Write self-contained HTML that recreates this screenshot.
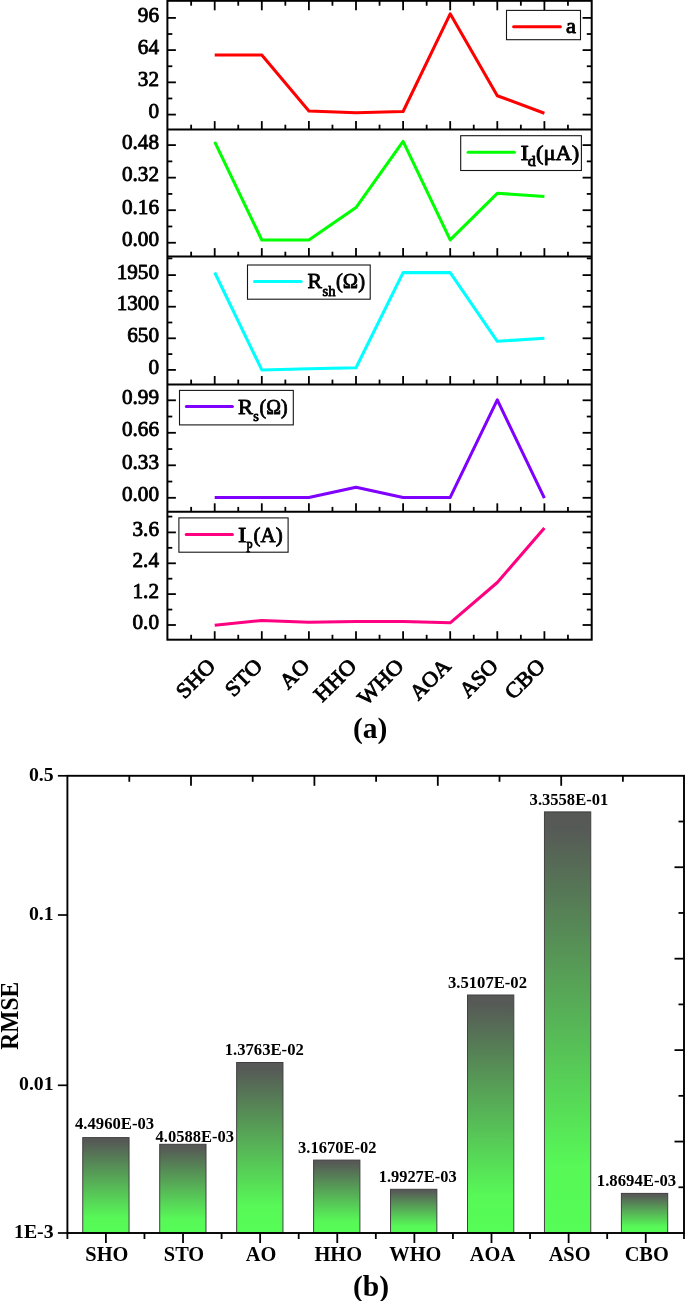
<!DOCTYPE html>
<html lang="en">
<head>
<meta charset="utf-8">
<title>Figure: optimizer parameter comparison and RMSE</title>
<style>
html,body{margin:0;padding:0;background:#fff;}
body{width:685px;height:1301px;overflow:hidden;}
svg{display:block;font-family:"Liberation Serif", "DejaVu Serif", serif;font-weight:bold;fill:#000;}
svg text{font-family:"Liberation Serif", "DejaVu Serif", serif;font-weight:bold;}
svg text.sb{font-weight:normal;stroke:#000;stroke-width:0.85px;stroke-linejoin:round;}
svg text.sc{font-weight:normal;stroke:#000;stroke-width:0.85px;stroke-linejoin:round;}
</style>
</head>
<body>
<svg width="685" height="1301" viewBox="0 0 685 1301">
<rect x="0" y="0" width="685" height="1301" fill="#ffffff"/>
<g id="chart-a">
<rect x="167.4" y="0.8" width="424.30000000000007" height="638.9000000000001" fill="none" stroke="#000" stroke-width="2.0"/>
<line x1="167.40" y1="129.60" x2="591.70" y2="129.60" stroke="#000" stroke-width="2.0" />
<line x1="167.40" y1="256.60" x2="591.70" y2="256.60" stroke="#000" stroke-width="2.0" />
<line x1="167.40" y1="384.50" x2="591.70" y2="384.50" stroke="#000" stroke-width="2.0" />
<line x1="167.40" y1="511.80" x2="591.70" y2="511.80" stroke="#000" stroke-width="2.0" />
<line x1="214.70" y1="0.80" x2="214.70" y2="10.30" stroke="#000" stroke-width="1.8" />
<line x1="261.80" y1="0.80" x2="261.80" y2="10.30" stroke="#000" stroke-width="1.8" />
<line x1="308.90" y1="0.80" x2="308.90" y2="10.30" stroke="#000" stroke-width="1.8" />
<line x1="356.00" y1="0.80" x2="356.00" y2="10.30" stroke="#000" stroke-width="1.8" />
<line x1="403.10" y1="0.80" x2="403.10" y2="10.30" stroke="#000" stroke-width="1.8" />
<line x1="450.20" y1="0.80" x2="450.20" y2="10.30" stroke="#000" stroke-width="1.8" />
<line x1="497.30" y1="0.80" x2="497.30" y2="10.30" stroke="#000" stroke-width="1.8" />
<line x1="544.40" y1="0.80" x2="544.40" y2="10.30" stroke="#000" stroke-width="1.8" />
<line x1="191.15" y1="0.80" x2="191.15" y2="5.70" stroke="#000" stroke-width="1.8" />
<line x1="238.25" y1="0.80" x2="238.25" y2="5.70" stroke="#000" stroke-width="1.8" />
<line x1="285.35" y1="0.80" x2="285.35" y2="5.70" stroke="#000" stroke-width="1.8" />
<line x1="332.45" y1="0.80" x2="332.45" y2="5.70" stroke="#000" stroke-width="1.8" />
<line x1="379.55" y1="0.80" x2="379.55" y2="5.70" stroke="#000" stroke-width="1.8" />
<line x1="426.65" y1="0.80" x2="426.65" y2="5.70" stroke="#000" stroke-width="1.8" />
<line x1="473.75" y1="0.80" x2="473.75" y2="5.70" stroke="#000" stroke-width="1.8" />
<line x1="520.85" y1="0.80" x2="520.85" y2="5.70" stroke="#000" stroke-width="1.8" />
<line x1="567.95" y1="0.80" x2="567.95" y2="5.70" stroke="#000" stroke-width="1.8" />
<line x1="214.70" y1="129.60" x2="214.70" y2="121.10" stroke="#000" stroke-width="1.8" />
<line x1="261.80" y1="129.60" x2="261.80" y2="121.10" stroke="#000" stroke-width="1.8" />
<line x1="308.90" y1="129.60" x2="308.90" y2="121.10" stroke="#000" stroke-width="1.8" />
<line x1="356.00" y1="129.60" x2="356.00" y2="121.10" stroke="#000" stroke-width="1.8" />
<line x1="403.10" y1="129.60" x2="403.10" y2="121.10" stroke="#000" stroke-width="1.8" />
<line x1="450.20" y1="129.60" x2="450.20" y2="121.10" stroke="#000" stroke-width="1.8" />
<line x1="497.30" y1="129.60" x2="497.30" y2="121.10" stroke="#000" stroke-width="1.8" />
<line x1="544.40" y1="129.60" x2="544.40" y2="121.10" stroke="#000" stroke-width="1.8" />
<line x1="191.15" y1="129.60" x2="191.15" y2="124.70" stroke="#000" stroke-width="1.8" />
<line x1="238.25" y1="129.60" x2="238.25" y2="124.70" stroke="#000" stroke-width="1.8" />
<line x1="285.35" y1="129.60" x2="285.35" y2="124.70" stroke="#000" stroke-width="1.8" />
<line x1="332.45" y1="129.60" x2="332.45" y2="124.70" stroke="#000" stroke-width="1.8" />
<line x1="379.55" y1="129.60" x2="379.55" y2="124.70" stroke="#000" stroke-width="1.8" />
<line x1="426.65" y1="129.60" x2="426.65" y2="124.70" stroke="#000" stroke-width="1.8" />
<line x1="473.75" y1="129.60" x2="473.75" y2="124.70" stroke="#000" stroke-width="1.8" />
<line x1="520.85" y1="129.60" x2="520.85" y2="124.70" stroke="#000" stroke-width="1.8" />
<line x1="567.95" y1="129.60" x2="567.95" y2="124.70" stroke="#000" stroke-width="1.8" />
<line x1="214.70" y1="256.60" x2="214.70" y2="248.10" stroke="#000" stroke-width="1.8" />
<line x1="261.80" y1="256.60" x2="261.80" y2="248.10" stroke="#000" stroke-width="1.8" />
<line x1="308.90" y1="256.60" x2="308.90" y2="248.10" stroke="#000" stroke-width="1.8" />
<line x1="356.00" y1="256.60" x2="356.00" y2="248.10" stroke="#000" stroke-width="1.8" />
<line x1="403.10" y1="256.60" x2="403.10" y2="248.10" stroke="#000" stroke-width="1.8" />
<line x1="450.20" y1="256.60" x2="450.20" y2="248.10" stroke="#000" stroke-width="1.8" />
<line x1="497.30" y1="256.60" x2="497.30" y2="248.10" stroke="#000" stroke-width="1.8" />
<line x1="544.40" y1="256.60" x2="544.40" y2="248.10" stroke="#000" stroke-width="1.8" />
<line x1="191.15" y1="256.60" x2="191.15" y2="251.70" stroke="#000" stroke-width="1.8" />
<line x1="238.25" y1="256.60" x2="238.25" y2="251.70" stroke="#000" stroke-width="1.8" />
<line x1="285.35" y1="256.60" x2="285.35" y2="251.70" stroke="#000" stroke-width="1.8" />
<line x1="332.45" y1="256.60" x2="332.45" y2="251.70" stroke="#000" stroke-width="1.8" />
<line x1="379.55" y1="256.60" x2="379.55" y2="251.70" stroke="#000" stroke-width="1.8" />
<line x1="426.65" y1="256.60" x2="426.65" y2="251.70" stroke="#000" stroke-width="1.8" />
<line x1="473.75" y1="256.60" x2="473.75" y2="251.70" stroke="#000" stroke-width="1.8" />
<line x1="520.85" y1="256.60" x2="520.85" y2="251.70" stroke="#000" stroke-width="1.8" />
<line x1="567.95" y1="256.60" x2="567.95" y2="251.70" stroke="#000" stroke-width="1.8" />
<line x1="214.70" y1="384.50" x2="214.70" y2="376.00" stroke="#000" stroke-width="1.8" />
<line x1="261.80" y1="384.50" x2="261.80" y2="376.00" stroke="#000" stroke-width="1.8" />
<line x1="308.90" y1="384.50" x2="308.90" y2="376.00" stroke="#000" stroke-width="1.8" />
<line x1="356.00" y1="384.50" x2="356.00" y2="376.00" stroke="#000" stroke-width="1.8" />
<line x1="403.10" y1="384.50" x2="403.10" y2="376.00" stroke="#000" stroke-width="1.8" />
<line x1="450.20" y1="384.50" x2="450.20" y2="376.00" stroke="#000" stroke-width="1.8" />
<line x1="497.30" y1="384.50" x2="497.30" y2="376.00" stroke="#000" stroke-width="1.8" />
<line x1="544.40" y1="384.50" x2="544.40" y2="376.00" stroke="#000" stroke-width="1.8" />
<line x1="191.15" y1="384.50" x2="191.15" y2="379.60" stroke="#000" stroke-width="1.8" />
<line x1="238.25" y1="384.50" x2="238.25" y2="379.60" stroke="#000" stroke-width="1.8" />
<line x1="285.35" y1="384.50" x2="285.35" y2="379.60" stroke="#000" stroke-width="1.8" />
<line x1="332.45" y1="384.50" x2="332.45" y2="379.60" stroke="#000" stroke-width="1.8" />
<line x1="379.55" y1="384.50" x2="379.55" y2="379.60" stroke="#000" stroke-width="1.8" />
<line x1="426.65" y1="384.50" x2="426.65" y2="379.60" stroke="#000" stroke-width="1.8" />
<line x1="473.75" y1="384.50" x2="473.75" y2="379.60" stroke="#000" stroke-width="1.8" />
<line x1="520.85" y1="384.50" x2="520.85" y2="379.60" stroke="#000" stroke-width="1.8" />
<line x1="567.95" y1="384.50" x2="567.95" y2="379.60" stroke="#000" stroke-width="1.8" />
<line x1="214.70" y1="511.80" x2="214.70" y2="503.30" stroke="#000" stroke-width="1.8" />
<line x1="261.80" y1="511.80" x2="261.80" y2="503.30" stroke="#000" stroke-width="1.8" />
<line x1="308.90" y1="511.80" x2="308.90" y2="503.30" stroke="#000" stroke-width="1.8" />
<line x1="356.00" y1="511.80" x2="356.00" y2="503.30" stroke="#000" stroke-width="1.8" />
<line x1="403.10" y1="511.80" x2="403.10" y2="503.30" stroke="#000" stroke-width="1.8" />
<line x1="450.20" y1="511.80" x2="450.20" y2="503.30" stroke="#000" stroke-width="1.8" />
<line x1="497.30" y1="511.80" x2="497.30" y2="503.30" stroke="#000" stroke-width="1.8" />
<line x1="544.40" y1="511.80" x2="544.40" y2="503.30" stroke="#000" stroke-width="1.8" />
<line x1="191.15" y1="511.80" x2="191.15" y2="506.90" stroke="#000" stroke-width="1.8" />
<line x1="238.25" y1="511.80" x2="238.25" y2="506.90" stroke="#000" stroke-width="1.8" />
<line x1="285.35" y1="511.80" x2="285.35" y2="506.90" stroke="#000" stroke-width="1.8" />
<line x1="332.45" y1="511.80" x2="332.45" y2="506.90" stroke="#000" stroke-width="1.8" />
<line x1="379.55" y1="511.80" x2="379.55" y2="506.90" stroke="#000" stroke-width="1.8" />
<line x1="426.65" y1="511.80" x2="426.65" y2="506.90" stroke="#000" stroke-width="1.8" />
<line x1="473.75" y1="511.80" x2="473.75" y2="506.90" stroke="#000" stroke-width="1.8" />
<line x1="520.85" y1="511.80" x2="520.85" y2="506.90" stroke="#000" stroke-width="1.8" />
<line x1="567.95" y1="511.80" x2="567.95" y2="506.90" stroke="#000" stroke-width="1.8" />
<line x1="214.70" y1="639.70" x2="214.70" y2="631.20" stroke="#000" stroke-width="1.8" />
<line x1="261.80" y1="639.70" x2="261.80" y2="631.20" stroke="#000" stroke-width="1.8" />
<line x1="308.90" y1="639.70" x2="308.90" y2="631.20" stroke="#000" stroke-width="1.8" />
<line x1="356.00" y1="639.70" x2="356.00" y2="631.20" stroke="#000" stroke-width="1.8" />
<line x1="403.10" y1="639.70" x2="403.10" y2="631.20" stroke="#000" stroke-width="1.8" />
<line x1="450.20" y1="639.70" x2="450.20" y2="631.20" stroke="#000" stroke-width="1.8" />
<line x1="497.30" y1="639.70" x2="497.30" y2="631.20" stroke="#000" stroke-width="1.8" />
<line x1="544.40" y1="639.70" x2="544.40" y2="631.20" stroke="#000" stroke-width="1.8" />
<line x1="191.15" y1="639.70" x2="191.15" y2="634.80" stroke="#000" stroke-width="1.8" />
<line x1="238.25" y1="639.70" x2="238.25" y2="634.80" stroke="#000" stroke-width="1.8" />
<line x1="285.35" y1="639.70" x2="285.35" y2="634.80" stroke="#000" stroke-width="1.8" />
<line x1="332.45" y1="639.70" x2="332.45" y2="634.80" stroke="#000" stroke-width="1.8" />
<line x1="379.55" y1="639.70" x2="379.55" y2="634.80" stroke="#000" stroke-width="1.8" />
<line x1="426.65" y1="639.70" x2="426.65" y2="634.80" stroke="#000" stroke-width="1.8" />
<line x1="473.75" y1="639.70" x2="473.75" y2="634.80" stroke="#000" stroke-width="1.8" />
<line x1="520.85" y1="639.70" x2="520.85" y2="634.80" stroke="#000" stroke-width="1.8" />
<line x1="567.95" y1="639.70" x2="567.95" y2="634.80" stroke="#000" stroke-width="1.8" />
<line x1="167.40" y1="17.90" x2="175.90" y2="17.90" stroke="#000" stroke-width="1.8" />
<line x1="591.70" y1="17.90" x2="582.60" y2="17.90" stroke="#000" stroke-width="1.8" />
<line x1="167.40" y1="50.10" x2="175.90" y2="50.10" stroke="#000" stroke-width="1.8" />
<line x1="591.70" y1="50.10" x2="582.60" y2="50.10" stroke="#000" stroke-width="1.8" />
<line x1="167.40" y1="82.35" x2="175.90" y2="82.35" stroke="#000" stroke-width="1.8" />
<line x1="591.70" y1="82.35" x2="582.60" y2="82.35" stroke="#000" stroke-width="1.8" />
<line x1="167.40" y1="114.60" x2="175.90" y2="114.60" stroke="#000" stroke-width="1.8" />
<line x1="591.70" y1="114.60" x2="582.60" y2="114.60" stroke="#000" stroke-width="1.8" />
<line x1="167.40" y1="34.02" x2="172.30" y2="34.02" stroke="#000" stroke-width="1.8" />
<line x1="591.70" y1="34.02" x2="586.80" y2="34.02" stroke="#000" stroke-width="1.8" />
<line x1="167.40" y1="66.25" x2="172.30" y2="66.25" stroke="#000" stroke-width="1.8" />
<line x1="591.70" y1="66.25" x2="586.80" y2="66.25" stroke="#000" stroke-width="1.8" />
<line x1="167.40" y1="98.48" x2="172.30" y2="98.48" stroke="#000" stroke-width="1.8" />
<line x1="591.70" y1="98.48" x2="586.80" y2="98.48" stroke="#000" stroke-width="1.8" />
<text x="159.00" y="21.50" font-size="21.2" text-anchor="end" class="sb">96</text>
<text x="159.00" y="53.70" font-size="21.2" text-anchor="end" class="sb">64</text>
<text x="159.00" y="85.95" font-size="21.2" text-anchor="end" class="sb">32</text>
<text x="159.00" y="118.20" font-size="21.2" text-anchor="end" class="sb">0</text>
<line x1="167.40" y1="145.10" x2="175.90" y2="145.10" stroke="#000" stroke-width="1.8" />
<line x1="591.70" y1="145.10" x2="582.60" y2="145.10" stroke="#000" stroke-width="1.8" />
<line x1="167.40" y1="177.65" x2="175.90" y2="177.65" stroke="#000" stroke-width="1.8" />
<line x1="591.70" y1="177.65" x2="582.60" y2="177.65" stroke="#000" stroke-width="1.8" />
<line x1="167.40" y1="210.20" x2="175.90" y2="210.20" stroke="#000" stroke-width="1.8" />
<line x1="591.70" y1="210.20" x2="582.60" y2="210.20" stroke="#000" stroke-width="1.8" />
<line x1="167.40" y1="242.75" x2="175.90" y2="242.75" stroke="#000" stroke-width="1.8" />
<line x1="591.70" y1="242.75" x2="582.60" y2="242.75" stroke="#000" stroke-width="1.8" />
<line x1="167.40" y1="161.38" x2="172.30" y2="161.38" stroke="#000" stroke-width="1.8" />
<line x1="591.70" y1="161.38" x2="586.80" y2="161.38" stroke="#000" stroke-width="1.8" />
<line x1="167.40" y1="193.93" x2="172.30" y2="193.93" stroke="#000" stroke-width="1.8" />
<line x1="591.70" y1="193.93" x2="586.80" y2="193.93" stroke="#000" stroke-width="1.8" />
<line x1="167.40" y1="226.48" x2="172.30" y2="226.48" stroke="#000" stroke-width="1.8" />
<line x1="591.70" y1="226.48" x2="586.80" y2="226.48" stroke="#000" stroke-width="1.8" />
<text x="159.00" y="148.70" font-size="21.2" text-anchor="end" class="sb">0.48</text>
<text x="159.00" y="181.25" font-size="21.2" text-anchor="end" class="sb">0.32</text>
<text x="159.00" y="213.80" font-size="21.2" text-anchor="end" class="sb">0.16</text>
<text x="159.00" y="246.35" font-size="21.2" text-anchor="end" class="sb">0.00</text>
<line x1="167.40" y1="275.10" x2="175.90" y2="275.10" stroke="#000" stroke-width="1.8" />
<line x1="591.70" y1="275.10" x2="582.60" y2="275.10" stroke="#000" stroke-width="1.8" />
<line x1="167.40" y1="306.70" x2="175.90" y2="306.70" stroke="#000" stroke-width="1.8" />
<line x1="591.70" y1="306.70" x2="582.60" y2="306.70" stroke="#000" stroke-width="1.8" />
<line x1="167.40" y1="338.30" x2="175.90" y2="338.30" stroke="#000" stroke-width="1.8" />
<line x1="591.70" y1="338.30" x2="582.60" y2="338.30" stroke="#000" stroke-width="1.8" />
<line x1="167.40" y1="369.90" x2="175.90" y2="369.90" stroke="#000" stroke-width="1.8" />
<line x1="591.70" y1="369.90" x2="582.60" y2="369.90" stroke="#000" stroke-width="1.8" />
<line x1="167.40" y1="258.40" x2="172.30" y2="258.40" stroke="#000" stroke-width="1.8" />
<line x1="591.70" y1="258.40" x2="586.80" y2="258.40" stroke="#000" stroke-width="1.8" />
<line x1="167.40" y1="290.90" x2="172.30" y2="290.90" stroke="#000" stroke-width="1.8" />
<line x1="591.70" y1="290.90" x2="586.80" y2="290.90" stroke="#000" stroke-width="1.8" />
<line x1="167.40" y1="322.50" x2="172.30" y2="322.50" stroke="#000" stroke-width="1.8" />
<line x1="591.70" y1="322.50" x2="586.80" y2="322.50" stroke="#000" stroke-width="1.8" />
<line x1="167.40" y1="354.10" x2="172.30" y2="354.10" stroke="#000" stroke-width="1.8" />
<line x1="591.70" y1="354.10" x2="586.80" y2="354.10" stroke="#000" stroke-width="1.8" />
<text x="159.00" y="278.70" font-size="21.2" text-anchor="end" class="sb">1950</text>
<text x="159.00" y="310.30" font-size="21.2" text-anchor="end" class="sb">1300</text>
<text x="159.00" y="341.90" font-size="21.2" text-anchor="end" class="sb">650</text>
<text x="159.00" y="373.50" font-size="21.2" text-anchor="end" class="sb">0</text>
<line x1="167.40" y1="400.30" x2="175.90" y2="400.30" stroke="#000" stroke-width="1.8" />
<line x1="591.70" y1="400.30" x2="582.60" y2="400.30" stroke="#000" stroke-width="1.8" />
<line x1="167.40" y1="432.80" x2="175.90" y2="432.80" stroke="#000" stroke-width="1.8" />
<line x1="591.70" y1="432.80" x2="582.60" y2="432.80" stroke="#000" stroke-width="1.8" />
<line x1="167.40" y1="465.30" x2="175.90" y2="465.30" stroke="#000" stroke-width="1.8" />
<line x1="591.70" y1="465.30" x2="582.60" y2="465.30" stroke="#000" stroke-width="1.8" />
<line x1="167.40" y1="497.80" x2="175.90" y2="497.80" stroke="#000" stroke-width="1.8" />
<line x1="591.70" y1="497.80" x2="582.60" y2="497.80" stroke="#000" stroke-width="1.8" />
<line x1="167.40" y1="416.55" x2="172.30" y2="416.55" stroke="#000" stroke-width="1.8" />
<line x1="591.70" y1="416.55" x2="586.80" y2="416.55" stroke="#000" stroke-width="1.8" />
<line x1="167.40" y1="449.05" x2="172.30" y2="449.05" stroke="#000" stroke-width="1.8" />
<line x1="591.70" y1="449.05" x2="586.80" y2="449.05" stroke="#000" stroke-width="1.8" />
<line x1="167.40" y1="481.55" x2="172.30" y2="481.55" stroke="#000" stroke-width="1.8" />
<line x1="591.70" y1="481.55" x2="586.80" y2="481.55" stroke="#000" stroke-width="1.8" />
<text x="159.00" y="403.90" font-size="21.2" text-anchor="end" class="sb">0.99</text>
<text x="159.00" y="436.40" font-size="21.2" text-anchor="end" class="sb">0.66</text>
<text x="159.00" y="468.90" font-size="21.2" text-anchor="end" class="sb">0.33</text>
<text x="159.00" y="501.40" font-size="21.2" text-anchor="end" class="sb">0.00</text>
<line x1="167.40" y1="532.40" x2="175.90" y2="532.40" stroke="#000" stroke-width="1.8" />
<line x1="591.70" y1="532.40" x2="582.60" y2="532.40" stroke="#000" stroke-width="1.8" />
<line x1="167.40" y1="563.30" x2="175.90" y2="563.30" stroke="#000" stroke-width="1.8" />
<line x1="591.70" y1="563.30" x2="582.60" y2="563.30" stroke="#000" stroke-width="1.8" />
<line x1="167.40" y1="594.10" x2="175.90" y2="594.10" stroke="#000" stroke-width="1.8" />
<line x1="591.70" y1="594.10" x2="582.60" y2="594.10" stroke="#000" stroke-width="1.8" />
<line x1="167.40" y1="625.00" x2="175.90" y2="625.00" stroke="#000" stroke-width="1.8" />
<line x1="591.70" y1="625.00" x2="582.60" y2="625.00" stroke="#000" stroke-width="1.8" />
<line x1="167.40" y1="516.60" x2="172.30" y2="516.60" stroke="#000" stroke-width="1.8" />
<line x1="591.70" y1="516.60" x2="586.80" y2="516.60" stroke="#000" stroke-width="1.8" />
<line x1="167.40" y1="547.83" x2="172.30" y2="547.83" stroke="#000" stroke-width="1.8" />
<line x1="591.70" y1="547.83" x2="586.80" y2="547.83" stroke="#000" stroke-width="1.8" />
<line x1="167.40" y1="578.70" x2="172.30" y2="578.70" stroke="#000" stroke-width="1.8" />
<line x1="591.70" y1="578.70" x2="586.80" y2="578.70" stroke="#000" stroke-width="1.8" />
<line x1="167.40" y1="609.57" x2="172.30" y2="609.57" stroke="#000" stroke-width="1.8" />
<line x1="591.70" y1="609.57" x2="586.80" y2="609.57" stroke="#000" stroke-width="1.8" />
<text x="159.00" y="536.00" font-size="21.2" text-anchor="end" class="sb">3.6</text>
<text x="159.00" y="566.90" font-size="21.2" text-anchor="end" class="sb">2.4</text>
<text x="159.00" y="597.70" font-size="21.2" text-anchor="end" class="sb">1.2</text>
<text x="159.00" y="628.60" font-size="21.2" text-anchor="end" class="sb">0.0</text>
<polyline points="214.70,54.90 261.80,54.90 308.90,110.90 356.00,112.70 403.10,111.50 450.20,13.80 497.30,95.70 544.40,113.20" fill="none" stroke="#ff0000" stroke-width="3.05" stroke-linejoin="round" stroke-linecap="butt"/>
<polyline points="214.70,141.80 261.80,240.00 308.90,240.00 356.00,207.60 403.10,141.40 450.20,239.80 497.30,193.30 544.40,196.40" fill="none" stroke="#00ff00" stroke-width="3.05" stroke-linejoin="round" stroke-linecap="butt"/>
<polyline points="214.70,272.50 261.80,369.90 308.90,368.70 356.00,367.80 403.10,272.60 450.20,272.60 497.30,341.30 544.40,338.30" fill="none" stroke="#00ffff" stroke-width="3.05" stroke-linejoin="round" stroke-linecap="butt"/>
<polyline points="214.70,497.40 261.80,497.40 308.90,497.40 356.00,487.20 403.10,497.40 450.20,497.40 497.30,399.90 544.40,498.20" fill="none" stroke="#7f00ff" stroke-width="3.05" stroke-linejoin="round" stroke-linecap="butt"/>
<polyline points="214.70,625.20 261.80,620.50 308.90,622.20 356.00,621.40 403.10,621.40 450.20,622.80 497.30,582.50 544.40,527.90" fill="none" stroke="#ff0080" stroke-width="3.05" stroke-linejoin="round" stroke-linecap="butt"/>
<rect x="506.5" y="10.4" width="74.0" height="29.3" fill="#fff" stroke="#151515" stroke-width="1.1"/>
<line x1="513.60" y1="26.80" x2="560.40" y2="26.80" stroke="#ff0000" stroke-width="3" stroke-linecap="round"/>
<text x="566.00" y="33.40" font-size="21" text-anchor="start" textLength="10.0" lengthAdjust="spacingAndGlyphs" class="sb">a</text>
<rect x="460.7" y="135.7" width="120.7" height="34.8" fill="#fff" stroke="#151515" stroke-width="1.1"/>
<line x1="468.10" y1="152.20" x2="514.40" y2="152.20" stroke="#00ff00" stroke-width="3" stroke-linecap="round"/>
<text x="520.40" y="159.60" font-size="21.5" text-anchor="start" textLength="8.4" lengthAdjust="spacingAndGlyphs" class="sb">I</text>
<text x="527.80" y="166.20" font-size="14.3" text-anchor="start" textLength="8.0" lengthAdjust="spacingAndGlyphs" class="sb">d</text>
<text x="536.00" y="159.60" font-size="21.5" text-anchor="start" textLength="43.2" lengthAdjust="spacingAndGlyphs" class="sb">(μA)</text>
<rect x="247.5" y="265.0" width="122.7" height="34.2" fill="#fff" stroke="#151515" stroke-width="1.1"/>
<line x1="254.50" y1="281.40" x2="301.20" y2="281.40" stroke="#00ffff" stroke-width="3" stroke-linecap="round"/>
<text x="307.60" y="287.60" font-size="21.5" text-anchor="start" textLength="14.5" lengthAdjust="spacingAndGlyphs" class="sb">R</text>
<text x="322.60" y="296.00" font-size="14.3" text-anchor="start" textLength="13.0" lengthAdjust="spacingAndGlyphs" class="sb">sh</text>
<text x="336.00" y="287.60" font-size="21.5" text-anchor="start" textLength="29.0" lengthAdjust="spacingAndGlyphs" class="sb">(Ω)</text>
<rect x="179.5" y="390.4" width="113.8" height="34.5" fill="#fff" stroke="#151515" stroke-width="1.1"/>
<line x1="186.40" y1="406.60" x2="232.40" y2="406.60" stroke="#7f00ff" stroke-width="3" stroke-linecap="round"/>
<text x="238.00" y="414.00" font-size="21.5" text-anchor="start" textLength="15.0" lengthAdjust="spacingAndGlyphs" class="sb">R</text>
<text x="253.20" y="420.50" font-size="14.3" text-anchor="start" textLength="5.6" lengthAdjust="spacingAndGlyphs" class="sb">s</text>
<text x="259.60" y="414.00" font-size="21.5" text-anchor="start" textLength="28.0" lengthAdjust="spacingAndGlyphs" class="sb">(Ω)</text>
<rect x="178.9" y="517.9" width="109.2" height="34.3" fill="#fff" stroke="#151515" stroke-width="1.1"/>
<line x1="186.20" y1="534.40" x2="232.40" y2="534.40" stroke="#ff0080" stroke-width="3" stroke-linecap="round"/>
<text x="238.00" y="541.50" font-size="21.5" text-anchor="start" textLength="8.4" lengthAdjust="spacingAndGlyphs" class="sb">I</text>
<text x="246.30" y="552.00" font-size="14.5" text-anchor="start" textLength="6.4" lengthAdjust="spacingAndGlyphs" class="sb">P</text>
<text x="253.60" y="541.50" font-size="21.5" text-anchor="start" textLength="29.0" lengthAdjust="spacingAndGlyphs" class="sb">(A)</text>
<text x="216.70" y="667.40" font-size="21.6" text-anchor="end" textLength="45.6" lengthAdjust="spacingAndGlyphs" class="sb" transform="rotate(-45 216.70 667.40)">SHO</text>
<text x="263.80" y="667.40" font-size="21.6" text-anchor="end" textLength="42.8" lengthAdjust="spacingAndGlyphs" class="sb" transform="rotate(-45 263.80 667.40)">STO</text>
<text x="310.90" y="667.40" font-size="21.6" text-anchor="end" textLength="32.4" lengthAdjust="spacingAndGlyphs" class="sb" transform="rotate(-45 310.90 667.40)">AO</text>
<text x="358.00" y="667.40" font-size="21.6" text-anchor="end" textLength="50.4" lengthAdjust="spacingAndGlyphs" class="sb" transform="rotate(-45 358.00 667.40)">HHO</text>
<text x="405.10" y="667.40" font-size="21.6" text-anchor="end" textLength="55.2" lengthAdjust="spacingAndGlyphs" class="sb" transform="rotate(-45 405.10 667.40)">WHO</text>
<text x="452.20" y="667.40" font-size="21.6" text-anchor="end" textLength="48.0" lengthAdjust="spacingAndGlyphs" class="sb" transform="rotate(-45 452.20 667.40)">AOA</text>
<text x="499.30" y="667.40" font-size="21.6" text-anchor="end" textLength="44.4" lengthAdjust="spacingAndGlyphs" class="sb" transform="rotate(-45 499.30 667.40)">ASO</text>
<text x="546.40" y="667.40" font-size="21.6" text-anchor="end" textLength="46.8" lengthAdjust="spacingAndGlyphs" class="sb" transform="rotate(-45 546.40 667.40)">CBO</text>
<text x="370.20" y="738.40" font-size="29.5" text-anchor="middle" >(a)</text>
</g>
<defs><linearGradient id="bg" x1="0" y1="0" x2="0" y2="1"><stop offset="0" stop-color="#565856"/><stop offset="0.04" stop-color="#565a56"/><stop offset="0.84" stop-color="#57f857"/><stop offset="1" stop-color="#56fd56"/></linearGradient></defs>
<g id="chart-b">
<rect x="82.75" y="1137.60" width="46.3" height="95.40" fill="url(#bg)" stroke="#404040" stroke-width="1"/>
<rect x="159.70" y="1144.30" width="46.3" height="88.70" fill="url(#bg)" stroke="#404040" stroke-width="1"/>
<rect x="236.65" y="1062.50" width="46.3" height="170.50" fill="url(#bg)" stroke="#404040" stroke-width="1"/>
<rect x="313.60" y="1160.10" width="46.3" height="72.90" fill="url(#bg)" stroke="#404040" stroke-width="1"/>
<rect x="390.55" y="1189.30" width="46.3" height="43.70" fill="url(#bg)" stroke="#404040" stroke-width="1"/>
<rect x="467.50" y="995.00" width="46.3" height="238.00" fill="url(#bg)" stroke="#404040" stroke-width="1"/>
<rect x="544.45" y="811.90" width="46.3" height="421.10" fill="url(#bg)" stroke="#404040" stroke-width="1"/>
<rect x="621.40" y="1193.40" width="46.3" height="39.60" fill="url(#bg)" stroke="#404040" stroke-width="1"/>
<rect x="67.4" y="775.8" width="616.6" height="457.20000000000005" fill="none" stroke="#000" stroke-width="1.9"/>
<line x1="67.40" y1="775.80" x2="57.90" y2="775.80" stroke="#000" stroke-width="1.7" />
<text x="53.60" y="780.60" font-size="19.2" text-anchor="end" textLength="24.7" lengthAdjust="spacingAndGlyphs" >0.5</text>
<line x1="67.40" y1="915.00" x2="57.90" y2="915.00" stroke="#000" stroke-width="1.7" />
<text x="53.60" y="919.80" font-size="19.2" text-anchor="end" textLength="24.7" lengthAdjust="spacingAndGlyphs" >0.1</text>
<line x1="67.40" y1="1085.30" x2="57.90" y2="1085.30" stroke="#000" stroke-width="1.7" />
<text x="53.60" y="1090.10" font-size="19.2" text-anchor="end" textLength="34.6" lengthAdjust="spacingAndGlyphs" >0.01</text>
<line x1="67.40" y1="1233.00" x2="57.90" y2="1233.00" stroke="#000" stroke-width="1.7" />
<text x="53.60" y="1237.80" font-size="19.2" text-anchor="end" textLength="39.6" lengthAdjust="spacingAndGlyphs" >1E-3</text>
<line x1="684.00" y1="821.52" x2="678.50" y2="821.52" stroke="#000" stroke-width="1.8" />
<line x1="684.00" y1="867.24" x2="674.50" y2="867.24" stroke="#000" stroke-width="1.8" />
<line x1="684.00" y1="912.96" x2="678.50" y2="912.96" stroke="#000" stroke-width="1.8" />
<line x1="684.00" y1="958.68" x2="674.50" y2="958.68" stroke="#000" stroke-width="1.8" />
<line x1="684.00" y1="1004.40" x2="678.50" y2="1004.40" stroke="#000" stroke-width="1.8" />
<line x1="684.00" y1="1050.12" x2="674.50" y2="1050.12" stroke="#000" stroke-width="1.8" />
<line x1="684.00" y1="1095.84" x2="678.50" y2="1095.84" stroke="#000" stroke-width="1.8" />
<line x1="684.00" y1="1141.56" x2="674.50" y2="1141.56" stroke="#000" stroke-width="1.8" />
<line x1="684.00" y1="1187.28" x2="678.50" y2="1187.28" stroke="#000" stroke-width="1.8" />
<line x1="129.30" y1="775.80" x2="129.30" y2="781.80" stroke="#000" stroke-width="1.8" />
<line x1="191.00" y1="775.80" x2="191.00" y2="785.80" stroke="#000" stroke-width="1.8" />
<line x1="252.70" y1="775.80" x2="252.70" y2="781.80" stroke="#000" stroke-width="1.8" />
<line x1="314.40" y1="775.80" x2="314.40" y2="785.80" stroke="#000" stroke-width="1.8" />
<line x1="376.10" y1="775.80" x2="376.10" y2="781.80" stroke="#000" stroke-width="1.8" />
<line x1="437.80" y1="775.80" x2="437.80" y2="785.80" stroke="#000" stroke-width="1.8" />
<line x1="499.50" y1="775.80" x2="499.50" y2="781.80" stroke="#000" stroke-width="1.8" />
<line x1="561.20" y1="775.80" x2="561.20" y2="785.80" stroke="#000" stroke-width="1.8" />
<line x1="622.90" y1="775.80" x2="622.90" y2="781.80" stroke="#000" stroke-width="1.8" />
<line x1="105.90" y1="1233.00" x2="105.90" y2="1243.00" stroke="#000" stroke-width="1.8" />
<line x1="144.46" y1="1233.00" x2="144.46" y2="1239.00" stroke="#000" stroke-width="1.8" />
<line x1="183.02" y1="1233.00" x2="183.02" y2="1243.00" stroke="#000" stroke-width="1.8" />
<line x1="221.58" y1="1233.00" x2="221.58" y2="1239.00" stroke="#000" stroke-width="1.8" />
<line x1="260.14" y1="1233.00" x2="260.14" y2="1243.00" stroke="#000" stroke-width="1.8" />
<line x1="298.70" y1="1233.00" x2="298.70" y2="1239.00" stroke="#000" stroke-width="1.8" />
<line x1="337.26" y1="1233.00" x2="337.26" y2="1243.00" stroke="#000" stroke-width="1.8" />
<line x1="375.82" y1="1233.00" x2="375.82" y2="1239.00" stroke="#000" stroke-width="1.8" />
<line x1="414.38" y1="1233.00" x2="414.38" y2="1243.00" stroke="#000" stroke-width="1.8" />
<line x1="452.94" y1="1233.00" x2="452.94" y2="1239.00" stroke="#000" stroke-width="1.8" />
<line x1="491.50" y1="1233.00" x2="491.50" y2="1243.00" stroke="#000" stroke-width="1.8" />
<line x1="530.06" y1="1233.00" x2="530.06" y2="1239.00" stroke="#000" stroke-width="1.8" />
<line x1="568.62" y1="1233.00" x2="568.62" y2="1243.00" stroke="#000" stroke-width="1.8" />
<line x1="607.18" y1="1233.00" x2="607.18" y2="1239.00" stroke="#000" stroke-width="1.8" />
<line x1="645.74" y1="1233.00" x2="645.74" y2="1243.00" stroke="#000" stroke-width="1.8" />
<line x1="684.00" y1="1233.00" x2="684.00" y2="1239.00" stroke="#000" stroke-width="1.8" />
<line x1="67.40" y1="1233.00" x2="67.40" y2="1239.00" stroke="#000" stroke-width="1.8" />
<text x="106.90" y="1261.40" font-size="20.4" text-anchor="middle" >SHO</text>
<text x="184.02" y="1261.40" font-size="20.4" text-anchor="middle" >STO</text>
<text x="261.14" y="1261.40" font-size="20.4" text-anchor="middle" >AO</text>
<text x="338.26" y="1261.40" font-size="20.4" text-anchor="middle" >HHO</text>
<text x="415.38" y="1261.40" font-size="20.4" text-anchor="middle" >WHO</text>
<text x="492.50" y="1261.40" font-size="20.4" text-anchor="middle" >AOA</text>
<text x="569.62" y="1261.40" font-size="20.4" text-anchor="middle" >ASO</text>
<text x="646.74" y="1261.40" font-size="20.4" text-anchor="middle" >CBO</text>
<text x="75.00" y="1128.90" font-size="16.8" text-anchor="start" textLength="79.2" lengthAdjust="spacingAndGlyphs" >4.4960E-03</text>
<text x="155.60" y="1142.00" font-size="16.8" text-anchor="start" textLength="78.4" lengthAdjust="spacingAndGlyphs" >4.0588E-03</text>
<text x="224.70" y="1055.40" font-size="16.8" text-anchor="start" textLength="79.1" lengthAdjust="spacingAndGlyphs" >1.3763E-02</text>
<text x="298.10" y="1153.40" font-size="16.8" text-anchor="start" textLength="78.3" lengthAdjust="spacingAndGlyphs" >3.1670E-02</text>
<text x="378.70" y="1182.00" font-size="16.8" text-anchor="start" textLength="77.9" lengthAdjust="spacingAndGlyphs" >1.9927E-03</text>
<text x="448.00" y="987.50" font-size="16.8" text-anchor="start" textLength="79.0" lengthAdjust="spacingAndGlyphs" >3.5107E-02</text>
<text x="529.60" y="805.00" font-size="16.8" text-anchor="start" textLength="78.7" lengthAdjust="spacingAndGlyphs" >3.3558E-01</text>
<text x="596.80" y="1185.50" font-size="16.8" text-anchor="start" textLength="79.4" lengthAdjust="spacingAndGlyphs" >1.8694E-03</text>
<text x="18.00" y="1015.70" font-size="25.4" text-anchor="middle" textLength="68.0" lengthAdjust="spacingAndGlyphs" transform="rotate(-90 18 1015.7)">RMSE</text>
<text x="371.00" y="1295.70" font-size="29.5" text-anchor="middle" >(b)</text>
</g>
</svg>
</body>
</html>
